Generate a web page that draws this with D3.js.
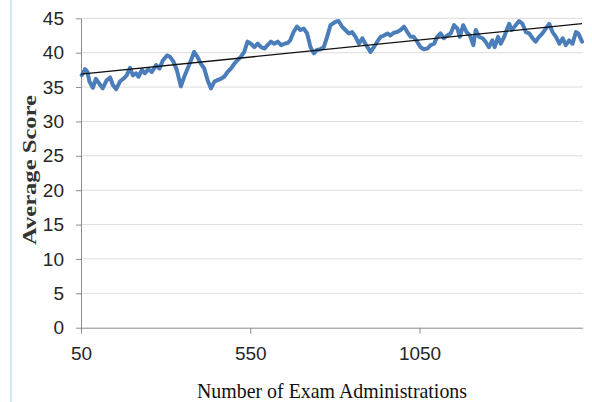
<!DOCTYPE html>
<html>
<head>
<meta charset="utf-8">
<script src="https://cdn.jsdelivr.net/npm/d3@7"></script>
<style>
  html, body { margin: 0; padding: 0; background: #fff; }
  svg { display: block; }
</style>
</head>
<body>
<svg id="chart" width="592" height="402"></svg>
<script>
// exam administration index (x) and moving average score (y)
const administrations = [
  52, 62, 69, 75, 85, 94, 104, 114, 126, 136, 144, 154, 165, 175, 185, 195, 203, 213, 220, 230,
  239, 249, 259, 272, 282, 292, 304, 313, 323, 333, 345, 355, 365, 375, 384, 394, 404, 414, 424, 434,
  444, 453, 463, 473, 483, 493, 503, 512, 522, 532, 542, 552, 562, 572, 582, 592, 601, 611, 621, 631,
  641, 651, 660, 668, 678, 688, 698, 708, 718, 728, 738, 747, 757, 767, 777, 787, 802, 811, 821, 831,
  841, 851, 861, 871, 881, 890, 905, 915, 925, 935, 945, 955, 964, 974, 984, 994, 1004, 1014, 1024, 1033,
  1043, 1053, 1063, 1073, 1083, 1093, 1102, 1112, 1122, 1132, 1142, 1152, 1162, 1169, 1179, 1189, 1199, 1209, 1216, 1226,
  1236, 1245, 1255, 1265, 1272, 1282, 1290, 1300, 1309, 1315, 1322, 1331, 1344, 1354, 1364, 1374, 1384, 1393, 1403, 1413,
  1423, 1433, 1443, 1453, 1463, 1473, 1482, 1492, 1502, 1512, 1519, 1530
];
const avgScores = [
  36.7, 37.6, 37.2, 35.8, 34.9, 36.2, 35.5, 34.8, 36.0, 36.4, 35.3, 34.7, 35.8, 36.2, 36.7, 37.8, 36.7, 37.0, 36.5, 37.5,
  37.0, 37.6, 37.2, 38.2, 37.7, 38.9, 39.6, 39.4, 38.7, 37.5, 35.1, 36.5, 37.7, 38.9, 40.1, 39.4, 38.4, 37.7, 36.0, 34.8,
  35.8, 36.0, 36.2, 36.5, 37.2, 37.7, 38.4, 38.9, 39.4, 40.1, 41.6, 41.3, 40.8, 41.3, 40.8, 40.6, 41.1, 41.6, 41.3, 41.6,
  41.1, 41.3, 41.4, 41.8, 43.0, 43.8, 43.3, 43.5, 42.8, 40.8, 39.9, 40.4, 40.5, 40.8, 42.3, 44.0, 44.5, 44.6, 43.8, 43.3,
  42.8, 43.0, 42.3, 41.3, 42.1, 41.3, 40.1, 40.8, 41.6, 42.3, 42.5, 42.8, 42.5, 42.9, 43.0, 43.3, 43.8, 43.0, 42.3, 42.3,
  41.6, 40.8, 40.5, 40.6, 41.1, 41.3, 42.3, 42.8, 42.1, 42.5, 42.8, 44.0, 43.5, 42.3, 44.0, 43.0, 42.5, 41.1, 43.3, 42.3,
  42.1, 41.6, 40.8, 41.8, 40.8, 42.3, 41.3, 42.3, 43.5, 44.2, 43.3, 43.8, 44.6, 44.2, 43.0, 42.8, 42.1, 41.6, 42.3, 42.8,
  43.5, 44.2, 43.0, 42.3, 41.3, 42.1, 41.1, 41.8, 41.3, 43.0, 42.8, 41.6
];
const xTicks = [50, 550, 1050];
const yTicks = [0, 5, 10, 15, 20, 25, 30, 35, 40, 45];

const series = administrations.map((x, i) => ({ x: x, y: avgScores[i] }));

const svg = d3.select("#chart");
const plotLeft = 81, plotRight = 582.7, plotTop = 18.3, plotBottom = 327.7;

const x = d3.scaleLinear().domain([50, 1532]).range([plotLeft, plotRight]);
const y = d3.scaleLinear().domain([0, 45]).range([plotBottom, plotTop]);

// page border on the left
svg.append("line")
  .attr("x1", 11).attr("x2", 11).attr("y1", 0).attr("y2", 402)
  .attr("stroke", "#cfe6f6").attr("stroke-width", 2);

// gridlines
svg.append("g")
  .selectAll("line")
  .data(yTicks.filter(d => d > 0))
  .enter()
  .append("line")
  .attr("x1", plotLeft).attr("x2", plotRight)
  .attr("y1", d => y(d)).attr("y2", d => y(d))
  .attr("stroke", "#dcdcdc").attr("stroke-width", 1);

// axes
const yAxis = svg.append("g")
  .attr("transform", `translate(${plotLeft},0)`)
  .call(d3.axisLeft(y).tickValues(yTicks).tickSize(5).tickPadding(12).tickSizeOuter(0));

const xAxis = svg.append("g")
  .attr("transform", `translate(0,${plotBottom})`)
  .call(d3.axisBottom(x).tickValues(xTicks).tickFormat(d3.format("d")).tickSize(6).tickPadding(13).tickSizeOuter(0));

[xAxis, yAxis].forEach(g => {
  g.select(".domain").attr("stroke", "#8c8c8c");
  g.selectAll(".tick line").attr("stroke", "#8c8c8c");
  g.selectAll(".tick text")
    .style("font-family", "'Liberation Sans', Arial, sans-serif")
    .style("font-size", "19px")
    .attr("fill", "#262626");
});

// score line
const line = d3.line().x(d => x(d.x)).y(d => y(d.y));

svg.append("path")
  .datum(series)
  .attr("d", line)
  .attr("fill", "none")
  .attr("stroke", "#4a7dba")
  .attr("stroke-width", 4)
  .attr("stroke-linejoin", "round")
  .attr("stroke-linecap", "round");

// linear trendline (least squares)
const mx = d3.mean(series, d => d.x);
const my = d3.mean(series, d => d.y);
const slope = d3.sum(series, d => (d.x - mx) * (d.y - my)) / d3.sum(series, d => (d.x - mx) ** 2);
const icpt = my - slope * mx;
const trend = [50, 1530].map(v => ({ x: v, y: icpt + slope * v }));

svg.append("path")
  .datum(trend)
  .attr("d", line)
  .attr("fill", "none")
  .attr("stroke", "#111")
  .attr("stroke-width", 1.3);

// axis titles
svg.append("text")
  .attr("x", 332)
  .attr("y", 398)
  .attr("text-anchor", "middle")
  .attr("textLength", 270)
  .attr("lengthAdjust", "spacingAndGlyphs")
  .text("Number of Exam Administrations")
  .style("font-family", "'Liberation Serif', 'Times New Roman', serif")
  .style("font-size", "22px")
  .attr("fill", "#111");

svg.append("text")
  .attr("transform", "translate(36,170) rotate(-90)")
  .attr("text-anchor", "middle")
  .attr("textLength", 150)
  .attr("lengthAdjust", "spacingAndGlyphs")
  .text("Average Score")
  .style("font-family", "'Liberation Serif', 'Times New Roman', serif")
  .style("font-size", "18px")
  .style("font-weight", "bold")
  .attr("fill", "#333");
</script>
</body>
</html>
